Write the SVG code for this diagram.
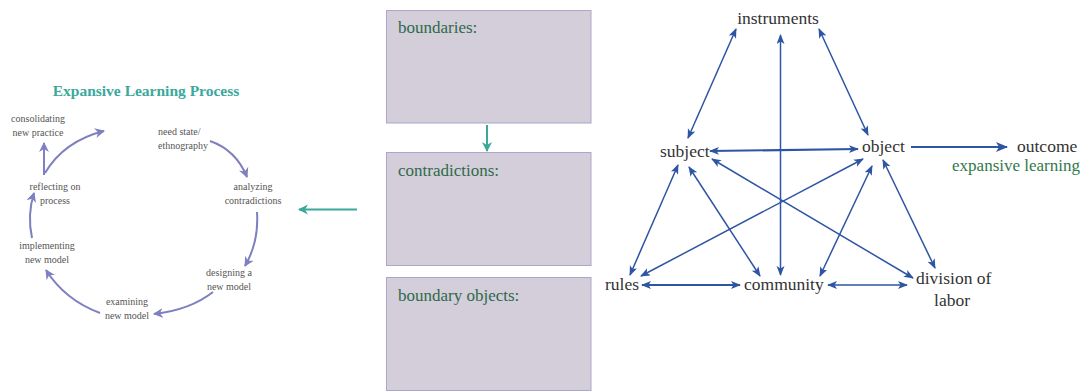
<svg xmlns="http://www.w3.org/2000/svg" width="1084" height="392" viewBox="0 0 1084 392">
<style>
text{font-family:'Liberation Serif','Times New Roman','DejaVu Serif',serif}
.sm{font-size:10px;fill:#555;text-anchor:middle}
.title{font-size:15.5px;font-weight:bold;fill:#3aa99c;text-anchor:middle}
.box{fill:#d3ced9;stroke:#aaa7c9;stroke-width:1}
.blab{font-size:17px;fill:#2e6a4b}
.lab{font-size:17.5px;fill:#333}
.grn{font-size:17px;fill:#2f7a4a}
.pa{fill:none;stroke:#7f80bf;stroke-width:2;marker-end:url(#mp)}
.ta{fill:none;stroke:#3aa99c;stroke-width:2;marker-end:url(#mt)}
.ba{fill:none;stroke:#2d55a3;stroke-width:1.5;marker-start:url(#mb);marker-end:url(#mb)}
.bt{stroke-width:2.2}
</style>
<defs>
<marker id="mp" markerUnits="userSpaceOnUse" markerWidth="12" markerHeight="12" refX="9" refY="5" orient="auto"><path d="M0,0 L10,5 L0,10 L3,5 Z" fill="#7f80bf"/></marker>
<marker id="mt" markerUnits="userSpaceOnUse" markerWidth="12" markerHeight="12" refX="9" refY="5" orient="auto"><path d="M0,0 L10,5 L0,10 L3,5 Z" fill="#3aa99c"/></marker>
<marker id="mb" markerUnits="userSpaceOnUse" markerWidth="12" markerHeight="12" refX="9" refY="4" orient="auto-start-reverse"><path d="M0,0 L10,4 L0,8 L2.5,4 Z" fill="#2d55a3"/></marker>
<marker id="mbe" markerUnits="userSpaceOnUse" markerWidth="14" markerHeight="14" refX="11" refY="5" orient="auto"><path d="M0,0 L12,5 L0,10 L3,5 Z" fill="#2d55a3"/></marker>
</defs>

<text class="title" x="146" y="96">Expansive Learning Process</text>

<g id="cycle-labels">
<g id="n-consolidating"><text class="sm" x="38" y="122">consolidating</text><text class="sm" x="38" y="136">new practice</text></g>
<g id="n-need"><text class="sm" x="158" y="135" style="text-anchor:start">need state/</text><text class="sm" x="158" y="149" style="text-anchor:start">ethnography</text></g>
<g id="n-analyzing"><text class="sm" x="253" y="190">analyzing</text><text class="sm" x="253" y="204">contradictions</text></g>
<g id="n-designing"><text class="sm" x="229" y="276">designing a</text><text class="sm" x="229" y="290">new model</text></g>
<g id="n-examining"><text class="sm" x="127" y="305">examining</text><text class="sm" x="127" y="319">new model</text></g>
<g id="n-implementing"><text class="sm" x="47" y="249">implementing</text><text class="sm" x="47" y="263">new model</text></g>
<g id="n-reflecting"><text class="sm" x="55" y="190">reflecting on</text><text class="sm" x="55" y="204">process</text></g>
</g>

<g id="cycle-connectors">
<path class="pa" d="M210,141 Q236,150 247,177"/>
<path class="pa" d="M257,212 Q259,242 245,266"/>
<path class="pa" d="M213,292 Q190,310 154,314"/>
<path class="pa" d="M100,313 Q65,300 46,270"/>
<path class="pa" d="M32,238 Q27,215 34,193"/>
<path class="pa" d="M44,175 L44,143"/>
<path class="pa" d="M45,173 Q64,141 104,131"/>
</g>

<g id="box-boundaries"><rect class="box" x="386.5" y="10.5" width="204.5" height="112.5"/><text class="blab" x="398" y="33">boundaries:</text></g>
<g id="box-contradictions"><rect class="box" x="386.5" y="152.5" width="204.5" height="113"/><text class="blab" x="398" y="176">contradictions:</text></g>
<g id="box-boundary-objects"><rect class="box" x="386.5" y="277.5" width="204.5" height="113"/><text class="blab" x="398" y="301">boundary objects:</text></g>

<g id="teal-connectors">
<path class="ta" d="M487,125 L487,151"/>
<path class="ta" d="M357,209.5 L299,209.5"/>
</g>

<g id="n-instruments"><text class="lab" x="778" y="24" text-anchor="middle">instruments</text></g>
<g id="n-subject"><text class="lab" x="660" y="157">subject</text></g>
<g id="n-object"><text class="lab" x="862" y="152">object</text></g>
<g id="n-outcome"><text class="lab" x="1017" y="152">outcome</text><text class="grn" x="1080" y="171" text-anchor="end">expansive learning</text></g>
<g id="n-rules"><text class="lab" x="605" y="290">rules</text></g>
<g id="n-community"><text class="lab" x="744" y="290">community</text></g>
<g id="n-division"><text class="lab" x="916" y="284">division of</text><text class="lab" x="952" y="306" text-anchor="middle">labor</text></g>

<g id="activity-connectors">
<path class="ba" d="M736,29 L688,138"/>
<path class="ba" d="M780.5,35 L780.5,275"/>
<path class="ba" d="M819,29 L868,135"/>
<path class="ba bt" d="M710,151 L858,149"/>
<path d="M911,147 L1007,147" fill="none" stroke="#2d55a3" stroke-width="2.2" marker-end="url(#mbe)"/>
<path class="ba" d="M678,165 L630,275"/>
<path class="ba" d="M689,167 L760,276"/>
<path class="ba" d="M712,159 L913,278"/>
<path class="ba" d="M863,159 L641,276"/>
<path class="ba" d="M872,166 L820,276"/>
<path class="ba" d="M883,160 L935,268"/>
<path class="ba bt" d="M642,285 L740,285"/>
<path class="ba" d="M828,285 L907,285"/>
</g>
</svg>
